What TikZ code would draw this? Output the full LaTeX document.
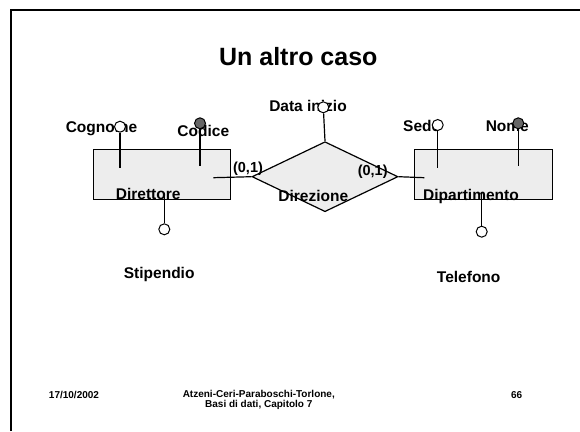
\documentclass[tikz,border=0pt]{standalone}
\usepackage{fontspec}
\setmainfont{Liberation Sans}
\usetikzlibrary{shapes.geometric}
\definecolor{boxfill}{HTML}{EDEDED}
\definecolor{keyfill}{HTML}{666666}
\tikzset{
  entity/.style={draw=black, fill=boxfill, line width=1.2pt, minimum width=137pt, minimum height=50pt, inner sep=0pt},
  rel/.style={diamond, draw=black, fill=boxfill, line width=1.2pt, minimum width=146pt, minimum height=70pt, inner sep=0pt},
  attr/.style={circle, draw=black, fill=white, line width=1pt, minimum size=11pt, inner sep=0pt},
  keyattr/.style={attr, fill=keyfill},
  conn/.style={draw=black, line width=1.2pt},
  frame/.style={draw=black, line width=1.6pt},
  lbl/.style={font=\fontsize{15.5}{18}\selectfont\bfseries, inner sep=0pt, anchor=base},
  card/.style={font=\fontsize{14.5}{17}\selectfont\bfseries, inner sep=0pt, anchor=base},
  ttl/.style={font=\fontsize{25}{30}\selectfont\bfseries, inner sep=0pt, anchor=base},
  foot/.style={font=\fontsize{10}{10}\selectfont\bfseries, inner sep=0pt, anchor=base, align=center}
}

\begin{document}
\begin{tikzpicture}[x=1pt, y=-1pt]
  \useasboundingbox (0,0) rectangle (580,431);
  \draw[frame] (11,431) -- (11,10) -- (580,10);

  \node[ttl] (title) at (298.3,65.7) {Un altro caso};

  % entities and relationship
  \node[entity] (dirt) at (161.8,174.3) {};
  \node[entity, minimum width=138pt] (dip) at (483.2,174.3) {};
  \node[rel] (dir) at (325,176.7) {};

  \node[lbl] (dirtL) at (148.2,199.3) {Direttore};
  \node[lbl] (dipL) at (471,200) {Dipartimento};
  \node[lbl] (dirL) at (313.3,201.7) {Direzione};

  \coordinate (dirtIn) at (213.3,177.7);
  \coordinate (dipIn) at (424.3,177.7);
  \draw[conn] (dirtIn) -- (dir.west);
  \draw[conn] (dir.east) -- (dipIn);
  \node[card] (cardL) at (248,172.7) {(0,1)};
  \node[card] (cardR) at (372.7,175) {(0,1)};

  % attribute labels
  \node[lbl] (cogL) at (101.5,132.3) {Cognome};
  \node[lbl] (codL) at (203.3,136) {Codice};
  \node[lbl] (stiL) at (159.2,278.3) {Stipendio};
  \node[lbl] (datL) at (308,111.7) {Data inizio};
  \node[lbl] (sedL) at (421.7,131.7) {Sede};
  \node[lbl] (nomL) at (507.3,131.7) {Nome};
  \node[lbl] (telL) at (468.7,282.3) {Telefono};

  % attributes
  \coordinate (cogIn) at (120,167.7);
  \coordinate (codIn) at (200,166);
  \coordinate (stiIn) at (164.3,193);
  \coordinate (sedIn) at (437.7,167.7);
  \coordinate (nomIn) at (518.3,166);
  \coordinate (telIn) at (481.7,193);

  \node[attr] (cog) at (120,126.7) {};
  \node[keyattr] (cod) at (200,123.3) {};
  \node[attr] (sti) at (164.3,229.3) {};
  \node[attr] (dat) at (323.3,107.3) {};
  \node[attr] (sed) at (437.7,125) {};
  \node[keyattr] (nom) at (518.3,123.3) {};
  \node[attr] (tel) at (481.7,231.7) {};

  \draw[conn] (cog) -- (cogIn);
  \draw[conn] (cod) -- (codIn);
  \draw[conn] (sti) -- (stiIn);
  \draw[conn] (dat) -- (dir.north);
  \draw[conn] (sed) -- (sedIn);
  \draw[conn] (nom) -- (nomIn);
  \draw[conn] (tel) -- (telIn);

  % footer
  \node[foot] (date) at (74,398) {17/10/2002};
  \node[foot] (src) at (258.8,407.7) {Atzeni-Ceri-Paraboschi-Torlone,\\Basi di dati, Capitolo 7};
  \node[foot] (page) at (516.7,398) {66};
\end{tikzpicture}
\end{document}
